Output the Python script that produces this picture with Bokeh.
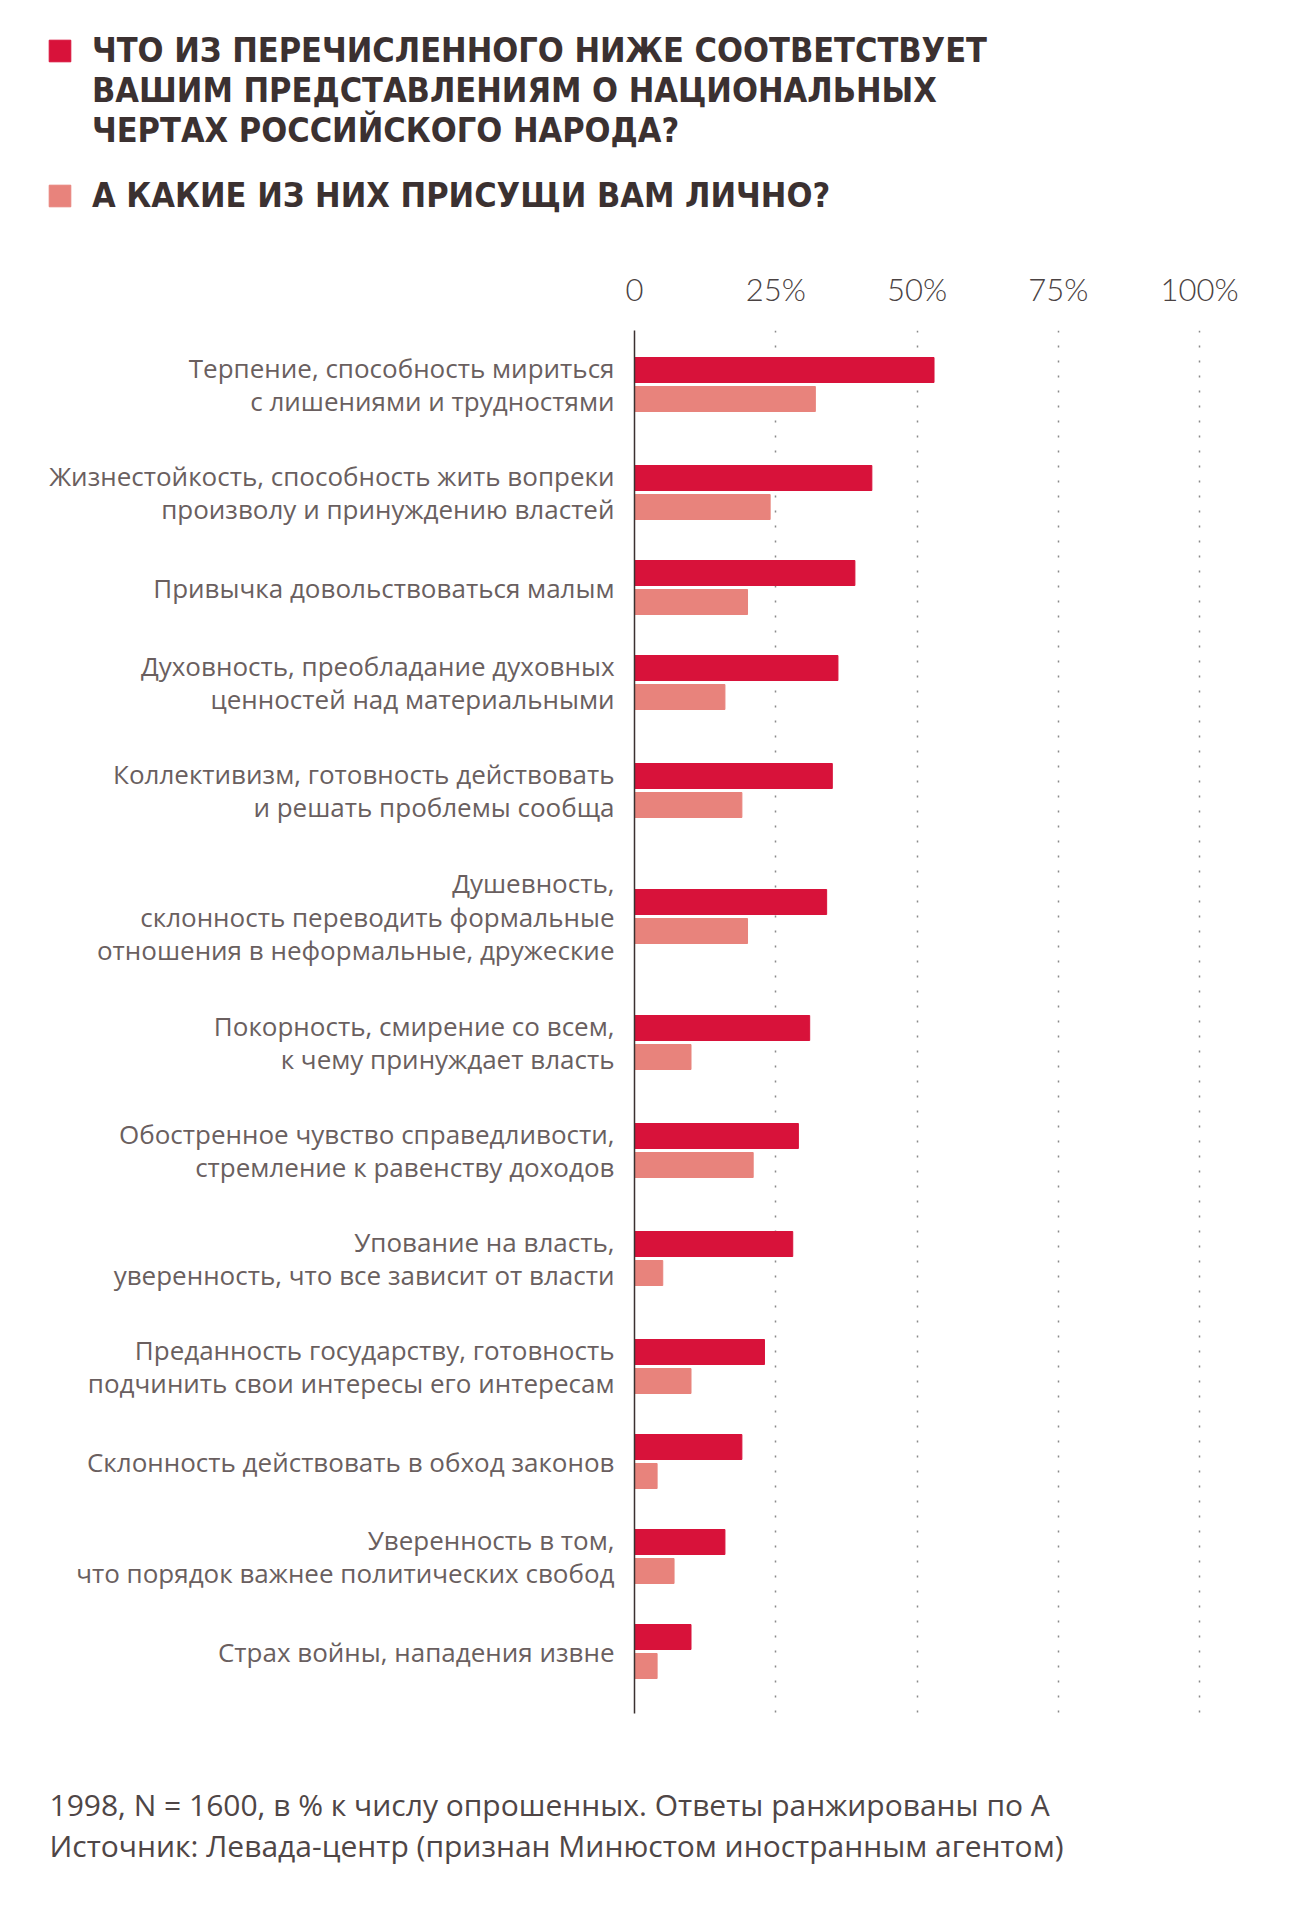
from bokeh.plotting import figure
from bokeh.models import Range1d, FixedTicker, Legend, LegendItem, Label
from bokeh.transform import dodge
from bokeh.embed import file_html
from bokeh.resources import INLINE

# ---------------- data ----------------
categories = [
    "Терпение, способность мириться\nс лишениями и трудностями",
    "Жизнестойкость, способность жить вопреки\nпроизволу и принуждению властей",
    "Привычка довольствоваться малым",
    "Духовность, преобладание духовных\nценностей над материальными",
    "Коллективизм, готовность действовать\nи решать проблемы сообща",
    "Душевность,\nсклонность переводить формальные\nотношения в неформальные, дружеские",
    "Покорность, смирение со всем,\nк чему принуждает власть",
    "Обостренное чувство справедливости,\nстремление к равенству доходов",
    "Упование на власть,\nуверенность, что все зависит от власти",
    "Преданность государству, готовность\nподчинить свои интересы его интересам",
    "Склонность действовать в обход законов",
    "Уверенность в том,\nчто порядок важнее политических свобод",
    "Страх войны, нападения извне",
]
national_traits = [53, 42, 39, 36, 35, 34, 31, 29, 28, 23, 19, 16, 10]
personal_traits = [32, 24, 20, 16, 19, 20, 10, 21, 5, 10, 4, 7, 4]
x_ticks = [0, 25, 50, 75, 100]
x_tick_labels = ["0", "25%", "50%", "75%", "100%"]
series_names = [
    "ЧТО ИЗ ПЕРЕЧИСЛЕННОГО НИЖЕ СООТВЕТСТВУЕТ\nВАШИМ ПРЕДСТАВЛЕНИЯМ О НАЦИОНАЛЬНЫХ\nЧЕРТАХ РОССИЙСКОГО НАРОДА?",
    "А КАКИЕ ИЗ НИХ ПРИСУЩИ ВАМ ЛИЧНО?",
]
footer_lines = [
    "1998, N = 1600, в % к числу опрошенных. Ответы ранжированы по А",
    "Источник: Левада-центр (признан Минюстом иностранным агентом)",
]

# ---------------- style ----------------
DARK = "#d8123a"
LIGHT = "#e8837c"
TEXT = "#6a5f5f"
TITLE = "#3b3131"
FONT = "Open Sans"
W = 1285
HDR_H = 260
FTR_H = 150

# row slots grow with the number of label lines
slot_h = {1: 82, 2: 108, 3: 144}
centers = []
acc = 0
for c in categories:
    h = slot_h[c.count("\n") + 1]
    centers.append(acc + h / 2)
    acc += h
frame_h = int(acc + 21)

src = dict(y=centers, nat=national_traits, per=personal_traits)

# ---------------- main chart ----------------
p = figure(frame_width=616, frame_height=frame_h,
           x_range=Range1d(0, 109), y_range=Range1d(frame_h, 0),
           output_backend="svg", toolbar_location=None, x_axis_location="above",
           min_border_left=634, min_border_right=35, min_border_top=330 - HDR_H,
           min_border_bottom=10, outline_line_color=None)

p.hbar(y=dodge("y", -14.5, range=p.y_range), right="nat", left=0, height=25,
       color=DARK, source=src)
p.hbar(y=dodge("y", 14.5, range=p.y_range), right="per", left=0, height=25,
       color=LIGHT, source=src)

xa = p.xaxis[0]
xa.ticker = FixedTicker(ticks=x_ticks)
xa.major_label_overrides = {t: l for t, l in zip(x_ticks, x_tick_labels)}
xa.axis_line_color = None
xa.major_tick_line_color = None
xa.minor_tick_line_color = None
xa.major_label_standoff = 17
xa.major_label_text_font = "Lato Light, Lato"
xa.major_label_text_font_size = "31px"
xa.major_label_text_color = "#4a4242"

ya = p.yaxis[0]
ya.ticker = FixedTicker(ticks=centers)
ya.major_label_overrides = {c: l for c, l in zip(centers, categories)}
ya.axis_line_color = "#3b3131"
ya.axis_line_width = 1.5
ya.major_tick_line_color = None
ya.minor_tick_line_color = None
ya.major_label_standoff = 14
ya.major_label_text_font = FONT
ya.major_label_text_font_size = "26px"
ya.major_label_text_color = TEXT
ya.major_label_text_line_height = 0.93

p.ygrid.visible = False
p.xgrid.ticker = FixedTicker(ticks=x_ticks[1:])
p.xgrid.grid_line_color = "#8a8a8a"
p.xgrid.grid_line_width = 1.5
p.xgrid.grid_line_dash = "2 13"

# ---------------- header: legend of the two series ----------------
hdr = figure(width=W, height=HDR_H, output_backend="svg", toolbar_location=None,
             x_range=Range1d(0, 1), y_range=Range1d(0, 1),
             x_axis_location=None, y_axis_location=None,
             min_border_left=38, min_border_top=0, min_border_right=0, min_border_bottom=37,
             outline_line_color=None)
hdr.grid.visible = False
key_a = hdr.hbar(y="y", right="nat", left=0, height=25, color=DARK, source=src, visible=False)
key_b = hdr.hbar(y="y", right="per", left=0, height=25, color=LIGHT, source=src, visible=False)
# two blank lines above keep the key square level with the first title line
leg = Legend(items=[LegendItem(label="\n\n" + series_names[0], renderers=[key_a], index=0),
                    LegendItem(label=series_names[1], renderers=[key_b], index=0)],
             location="bottom_left", orientation="vertical",
             glyph_width=27, glyph_height=27, label_standoff=19, spacing=25,
             padding=8, margin=0,
             label_text_font="DejaVu Sans Condensed, DejaVu Sans", label_text_font_style="bold",
             label_text_font_size="34px", label_text_color=TITLE,
             background_fill_alpha=0, border_line_alpha=0)
hdr.add_layout(leg, "center")

# ---------------- footer ----------------
ftr = figure(width=W, height=FTR_H, output_backend="svg", toolbar_location=None,
             x_range=Range1d(0, 1), y_range=Range1d(0, 1),
             x_axis_location=None, y_axis_location=None,
             min_border=0, outline_line_color=None)
ftr.grid.visible = False
for i, line in enumerate(footer_lines):
    ftr.add_layout(Label(x=49, y=FTR_H - 81 - 41 * i, x_units="screen", y_units="screen",
                         text=line, text_font=FONT, text_font_size="30px",
                         text_color="#4f4646", text_baseline="middle"))

open("out.html", "w").write(file_html([hdr, p, ftr], INLINE))
